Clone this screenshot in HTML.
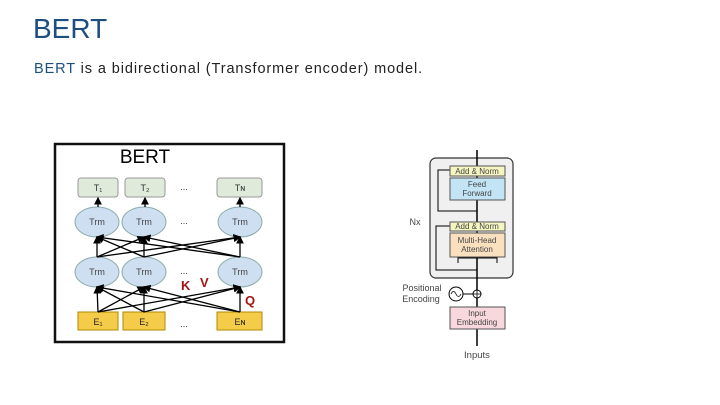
<!DOCTYPE html>
<html><head><meta charset="utf-8"><style>
body{margin:0;width:720px;height:405px;background:#fff;overflow:hidden;font-family:"Liberation Sans",sans-serif;position:relative}
.t{position:absolute;white-space:nowrap}
</style></head><body>
<div class="t" style="left:33px;top:13px;font-size:28px;color:#1c4e80">BERT</div>
<div class="t" style="left:34px;top:61px;font-size:14.5px;color:#222;letter-spacing:0.9px"><span style="color:#1c4e80">BERT</span> is a bidirectional (Transformer encoder) model.</div>
<svg width="720" height="405" style="position:absolute;left:0;top:0" font-family="Liberation Sans, sans-serif">
<defs><marker id="a" markerWidth="6" markerHeight="6" refX="5" refY="3" orient="auto"><path d="M0,0L6,3L0,6z" fill="#000"/></marker></defs>
<rect x="55" y="144" width="229" height="198" fill="#fff" stroke="#111" stroke-width="2.5"/>
<text x="145" y="163" font-size="19" text-anchor="middle">BERT</text>
<g fill="#dfeadb" stroke="#999"><rect x="78" y="178" width="40" height="19" rx="3"/><rect x="125" y="178" width="40" height="19" rx="3"/><rect x="217" y="178" width="45" height="19" rx="3"/></g>
<g font-size="9" fill="#333" text-anchor="middle"><text x="98" y="191">T₁</text><text x="145" y="191">T₂</text><text x="240" y="191">Tɴ</text></g>
<g fill="#cfdff2" stroke="#8aa"><ellipse cx="97" cy="222" rx="22" ry="15"/><ellipse cx="144" cy="222" rx="22" ry="15"/><ellipse cx="240" cy="222" rx="22" ry="15"/>
<ellipse cx="97" cy="272" rx="22" ry="15"/><ellipse cx="144" cy="272" rx="22" ry="15"/><ellipse cx="240" cy="272" rx="22" ry="15"/></g>
<g font-size="9" fill="#444" text-anchor="middle"><text x="97" y="225">Trm</text><text x="144" y="225">Trm</text><text x="240" y="225">Trm</text><text x="97" y="275">Trm</text><text x="144" y="275">Trm</text><text x="240" y="275">Trm</text></g>
<g fill="#f5cc4a" stroke="#b08a00"><rect x="78" y="312" width="40" height="18"/><rect x="123" y="312" width="42" height="18"/><rect x="217" y="312" width="45" height="18"/></g>
<g font-size="9" fill="#222" text-anchor="middle"><text x="98" y="325">E₁</text><text x="144" y="325">E₂</text><text x="240" y="325">Eɴ</text></g>
<g font-size="9" fill="#333" text-anchor="middle"><text x="184" y="190">...</text><text x="184" y="224">...</text><text x="184" y="274">...</text><text x="184" y="327">...</text></g>
<g stroke="#000" stroke-width="1.3" marker-end="url(#a)">
<line x1="98" y1="207" x2="98" y2="198"/><line x1="145" y1="207" x2="145" y2="198"/><line x1="240" y1="207" x2="240" y2="198"/>
<line x1="97" y1="257" x2="97" y2="237"/><line x1="144" y1="257" x2="144" y2="237"/><line x1="240" y1="257" x2="240" y2="237"/>
<line x1="97" y1="257" x2="144" y2="237"/><line x1="97" y1="257" x2="240" y2="237"/><line x1="144" y1="257" x2="97" y2="237"/><line x1="144" y1="257" x2="240" y2="237"/><line x1="240" y1="257" x2="97" y2="237"/><line x1="240" y1="257" x2="144" y2="237"/>
<line x1="98" y1="312" x2="97" y2="287"/><line x1="144" y1="312" x2="144" y2="287"/><line x1="240" y1="312" x2="240" y2="287"/>
<line x1="98" y1="312" x2="144" y2="287"/><line x1="98" y1="312" x2="240" y2="287"/><line x1="144" y1="312" x2="97" y2="287"/><line x1="144" y1="312" x2="240" y2="287"/><line x1="240" y1="312" x2="97" y2="287"/><line x1="240" y1="312" x2="144" y2="287"/>
</g>
<g fill="#a31515" font-size="13" font-weight="bold"><text x="181" y="290">K</text><text x="200" y="287">V</text><text x="245" y="305">Q</text></g>

<rect x="430" y="158" width="83" height="120" rx="6" fill="#f0f0f0" stroke="#333" stroke-width="1.2"/>
<line x1="477" y1="150" x2="477" y2="346" stroke="#000" stroke-width="1.5"/>
<g fill="none" stroke="#000" stroke-width="1"><path d="M477,211H438V170H450"/><path d="M477,270H436V226H450"/><path d="M458,263V258H497V263"/></g>
<rect x="450" y="166" width="55" height="10" fill="#f4f5c0" stroke="#555"/>
<rect x="450" y="178" width="55" height="22" fill="#c2e4f5" stroke="#555"/>
<rect x="450" y="222" width="55" height="9" fill="#f4f5c0" stroke="#555"/>
<rect x="450" y="233" width="55" height="24" fill="#fbe0c0" stroke="#555"/>
<rect x="450" y="307" width="55" height="22" fill="#f8d8dc" stroke="#555"/>
<g font-size="8" fill="#444" text-anchor="middle"><text x="477" y="174">Add &amp; Norm</text><text x="477" y="187">Feed</text><text x="477" y="196">Forward</text><text x="477" y="229">Add &amp; Norm</text><text x="477" y="243">Multi-Head</text><text x="477" y="252">Attention</text><text x="477" y="316">Input</text><text x="477" y="325">Embedding</text>
<text x="477" y="358" font-size="9.5">Inputs</text>
<text x="415" y="225" font-size="9">Nx</text><text x="422" y="291" font-size="9">Positional</text><text x="421" y="302" font-size="9">Encoding</text></g>
<circle cx="456" cy="294" r="7" fill="#fff" stroke="#000"/><path d="M451,294q2.5,-5 5,0t5,0" fill="none" stroke="#000" stroke-width="0.8"/>
<line x1="463" y1="294" x2="473" y2="294" stroke="#000"/>
<circle cx="477" cy="294" r="4" fill="#fff" stroke="#000"/><path d="M473,294h8M477,290v8" stroke="#000" stroke-width="0.8"/>
</svg>
</body></html>
